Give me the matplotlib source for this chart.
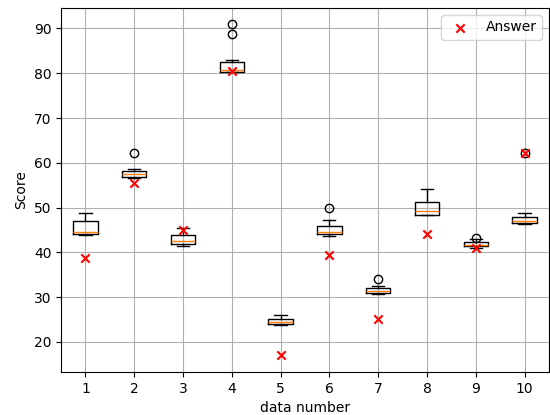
#!/usr/bin/env python3

import matplotlib
matplotlib.use("Agg")
import matplotlib.pyplot as plt

# box statistics (one entry per data number)
data_numbers = [1, 2, 3, 4, 5, 6, 7, 8, 9, 10]
whisker_low = [43.9, 56.5, 41.3, 80.2, 23.8, 43.6, 30.8, 48.3, 41.0, 46.3]
q1 = [44.0, 56.9, 41.9, 80.3, 24.0, 44.2, 31.0, 48.3, 41.3, 46.6]
medians = [44.5, 57.5, 42.5, 80.8, 24.5, 44.5, 31.4, 49.2, 41.7, 47.1]
q3 = [47.0, 58.1, 43.8, 82.6, 25.2, 45.9, 32.0, 51.2, 42.2, 48.0]
whisker_high = [48.8, 58.5, 45.5, 83.0, 26.0, 47.3, 32.4, 54.2, 42.9, 48.7]
outliers = [[], [62.2], [], [90.9, 88.8], [], [49.8], [34.1], [], [43.3], [62.2]]

answers = [38.8, 55.5, 44.9, 80.6, 17.0, 39.5, 25.1, 44.0, 41.0, 62.2]


def makeStats():
    stats = []
    for i in range(len(data_numbers)):
        stats.append({
            "whislo": whisker_low[i],
            "q1": q1[i],
            "med": medians[i],
            "q3": q3[i],
            "whishi": whisker_high[i],
            "fliers": outliers[i],
        })
    return stats


if "__main__" == __name__:
    fig, ax = plt.subplots(figsize=(5.5, 4.15), dpi=100)
    fig.subplots_adjust(left=0.111, right=0.998, top=0.981, bottom=0.104)

    ax.bxp(makeStats(), positions=data_numbers, widths=0.5)
    ax.scatter(data_numbers, answers, marker="x", color="red", label="Answer", zorder=3)

    ax.set_xlabel("data number")
    ax.set_ylabel("Score")
    ax.grid(True)
    ax.legend(loc="upper right")

    fig.savefig("out.png")
